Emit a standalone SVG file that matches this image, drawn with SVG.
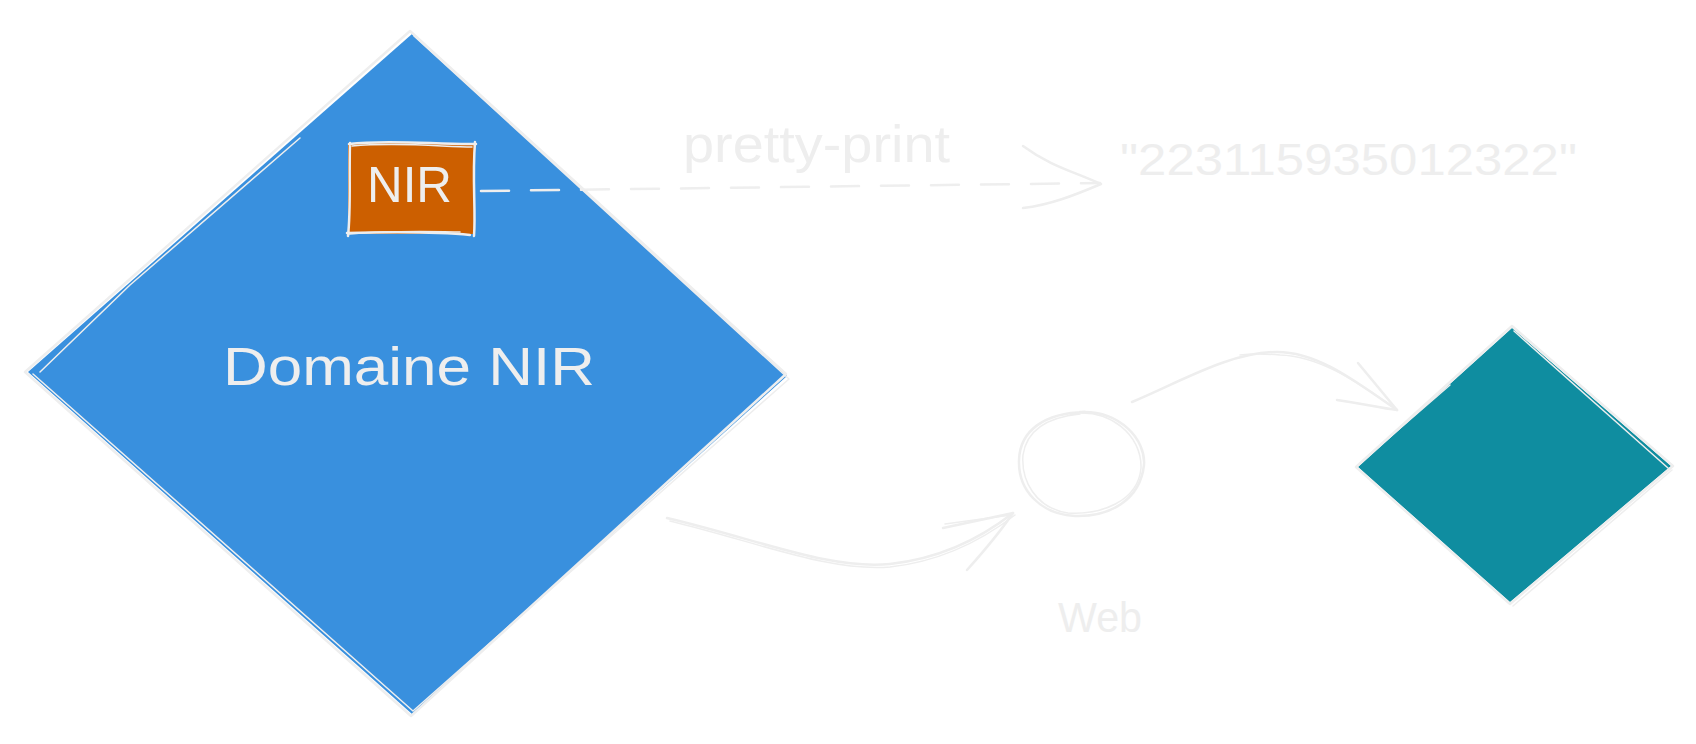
<svg xmlns="http://www.w3.org/2000/svg" width="1696" height="744" viewBox="0 0 1696 744">
<style>
.sk{fill:none;stroke:#eeeeee;stroke-width:2.5;stroke-linecap:round;stroke-linejoin:round}
.sk2{fill:none;stroke:#eeeeee;stroke-width:1.5;stroke-linecap:round;stroke-linejoin:round}
.lbl{font-family:"Liberation Sans","Noto Sans",sans-serif;fill:#eeeeee}
</style>
<rect width="1696" height="744" fill="#ffffff"/>
<g id="domaine-nir">
<path d="M412 34 L787 376 L412 714 L28 372 Z" fill="#3990de"/>
<path class="sk" d="M410 31 L786 374 L411 716 L25 372 Z"/>
<path class="sk2" d="M414 36 L789 379 L413 711 L33 374"/>
<path class="sk2" d="M40 372 L130 285 L300 138"/>
<text class="lbl" x="223" y="385" font-size="54" textLength="372" lengthAdjust="spacingAndGlyphs">Domaine NIR</text>
</g>
<g id="nir">
<rect x="348" y="143" width="127" height="91" fill="#cc5f00"/>
<path class="sk" d="M349 144 C390 139, 440 145, 476 144 M350 143 C349 180, 351 210, 348 236 M347 233 C390 232, 440 232, 470 235 M475 142 C472 180, 476 210, 474 236"/>
<path class="sk2" d="M352 146 C400 142, 445 147, 472 147 M349 234 C400 230, 440 232, 460 232"/>
<text class="lbl" x="367" y="202" font-size="50" textLength="85" lengthAdjust="spacingAndGlyphs">NIR</text>
</g>
<g id="number">
<text class="lbl" x="1120" y="175" font-size="45" textLength="457" lengthAdjust="spacingAndGlyphs">"223115935012322"</text>
</g>
<g id="web">
<path class="sk" d="M1080 412 C1120 410, 1146 440, 1144 465 C1140 500, 1110 517, 1075 516 C1040 514, 1018 490, 1019 460 C1020 430, 1045 413, 1085 412"/>
<path class="sk2" d="M1070 414 C1110 408, 1142 435, 1141 468 C1138 502, 1100 515, 1068 513 C1035 508, 1021 480, 1023 455 C1027 428, 1050 417, 1080 414"/>
<text class="lbl" x="1058" y="632" font-size="42" textLength="84" lengthAdjust="spacingAndGlyphs">Web</text>
</g>
<g id="teal-diamond">
<path d="M1512 328 L1671 466 L1510 602 L1358 467 Z" fill="#0f8da0"/>
<path class="sk" d="M1512 326 L1673 466 L1510 604 L1356 467 Z"/>
<path class="sk2" d="M1514 331 L1668 468 M1513 606 L1672 470 M1360 463 L1450 385"/>
</g>
<g id="connectors">
<path class="sk" d="M481 191 L1100 183" stroke-dasharray="28 22"/>
<path class="sk" d="M1023 146 C1050 166, 1075 172, 1101 184 M1023 208 C1050 205, 1075 195, 1101 184"/>
<path class="sk" d="M667 518 C760 540, 830 570, 890 564 C945 558, 985 535, 1013 513"/>
<path class="sk2" d="M670 521 C760 543, 830 572, 890 567 C945 561, 985 538, 1015 515"/>
<path class="sk" d="M943 528 L1013 513 M967 570 C985 550, 1000 532, 1013 513"/>
<path class="sk2" d="M945 524 L1011 515"/>
<path class="sk" d="M1132 402 C1180 382, 1230 352, 1277 352 C1320 352, 1360 385, 1397 410"/>
<path class="sk2" d="M1240 355 C1255 353, 1268 354, 1280 355 C1322 356, 1362 386, 1395 408"/>
<path class="sk" d="M1358 363 L1397 410 M1337 400 C1360 403, 1380 408, 1397 410"/>
</g>
<g id="pretty-print-label">
<text class="lbl" x="683" y="162" font-size="52" textLength="267" lengthAdjust="spacingAndGlyphs">pretty-print</text>
</g>
</svg>
